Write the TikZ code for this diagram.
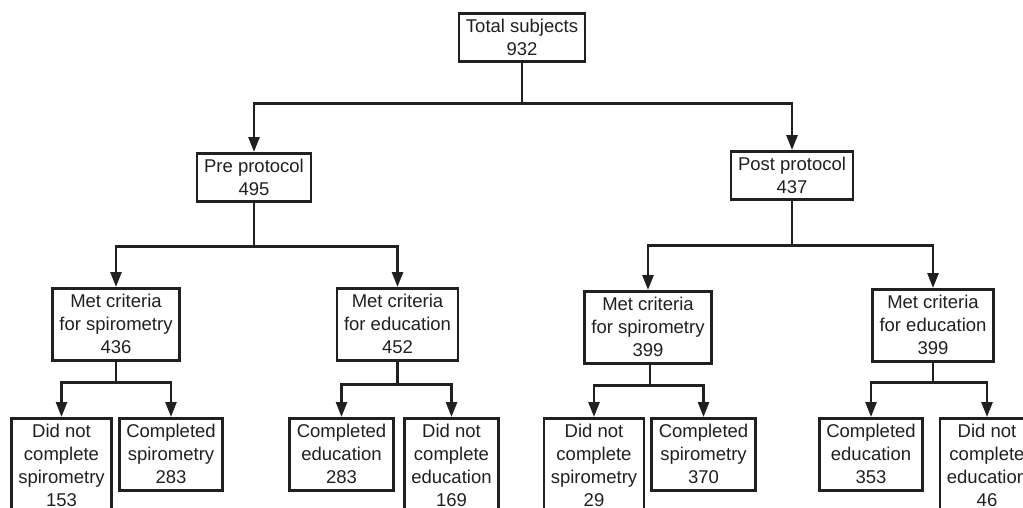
\documentclass[tikz,border=0pt]{standalone}
\usepackage{fontspec}
\setmainfont{Liberation Sans}
\usetikzlibrary{arrows.meta,positioning,calc}
\definecolor{ink}{HTML}{231F20}
\begin{document}
\begin{tikzpicture}[
  box/.style={draw=ink,line width=2.6pt,fill=white,anchor=north,align=center,
    inner xsep=7pt,inner ysep=2pt,text=ink,
    font=\fontsize{18.5}{23}\selectfont},
  two/.style={box,minimum height=48pt},
  three/.style={box,minimum height=72pt},
  four/.style={box,minimum height=95pt},
  link/.style={draw=ink,line width=2.6pt,->},
  >={Triangle[length=15pt,width=11pt]}, x=1pt, y=-1pt]
  \clip (0,0) rectangle (1023,507);
  \fill[white] (0,0) rectangle (1023,507);
  % nodes
  \node[two] (tot)  at (522,12)  {Total subjects\\932};
  \node[two] (pre)  at (254,152) {Pre protocol\\495};
  \node[two] (post) at (792,150) {Post protocol\\437};
  \node[three] (preS) at (116,287) {Met criteria\\for spirometry\\436};
  \node[three] (preE) at (397.5,287) {Met criteria\\for education\\452};
  \node[three] (posS) at (648,290) {Met criteria\\for spirometry\\399};
  \node[three] (posE) at (933,288) {Met criteria\\for education\\399};
  \node[four]  (preSn) at (61.5,417) {Did not\\complete\\spirometry\\153};
  \node[three] (preSy) at (171,417)  {Completed\\spirometry\\283};
  \node[three] (preEy) at (341.5,417) {Completed\\education\\283};
  \node[four]  (preEn) at (451.5,417) {Did not\\complete\\education\\169};
  \node[four]  (posSn) at (594,417)  {Did not\\complete\\spirometry\\29};
  \node[three] (posSy) at (703.5,417) {Completed\\spirometry\\370};
  \node[three] (posEy) at (871,417)  {Completed\\education\\353};
  \node[four]  (posEn) at (987,417)  {Did not\\complete\\education\\46};
  % edges
  \draw[link] (tot.south) -- ++(0,41) -| (pre.north);
  \draw[link] (tot.south) -- ++(0,41) -| (post.north);
  \draw[link] (pre.south) -- ++(0,44) -| (preS.north);
  \draw[link] (pre.south) -- ++(0,44) -| (preE.north);
  \draw[link] (post.south) -- ++(0,45) -| (posS.north);
  \draw[link] (post.south) -- ++(0,45) -| (posE.north);
  \draw[link] (preS.south) -- ++(0,21) -| (preSn.north);
  \draw[link] (preS.south) -- ++(0,21) -| (preSy.north);
  \draw[link] (preE.south) -- ++(0,23) -| (preEy.north);
  \draw[link] (preE.south) -- ++(0,23) -| (preEn.north);
  \draw[link] ([xshift=2pt]posS.south) -- ++(0,21) -| (posSn.north);
  \draw[link] ([xshift=2pt]posS.south) -- ++(0,21) -| (posSy.north);
  \draw[link] (posE.south) -- ++(0,20) -| (posEy.north);
  \draw[link] (posE.south) -- ++(0,20) -| (posEn.north);
\end{tikzpicture}
\end{document}
